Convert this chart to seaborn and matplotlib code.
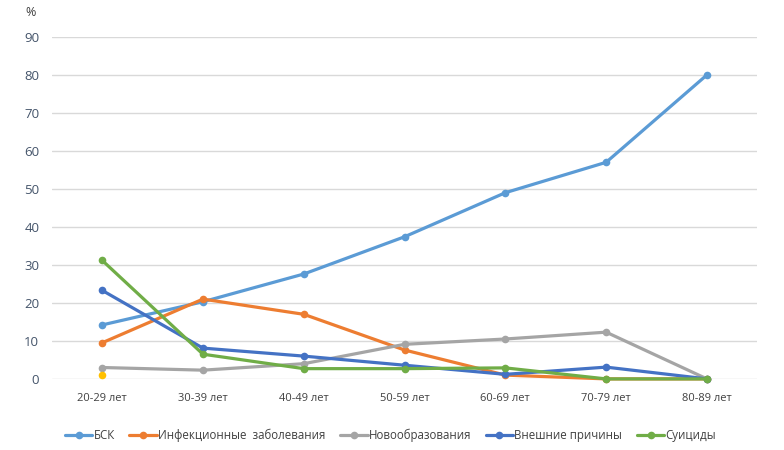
import pandas as pd
import matplotlib.pyplot as plt
import seaborn as sns

sns.set_theme(style="white")
plt.rcParams["font.family"] = ["Open Sans", "DejaVu Sans"]

## DATA
ages = ["20-29 лет", "30-39 лет", "40-49 лет", "50-59 лет", "60-69 лет", "70-79 лет", "80-89 лет"]
bsk = [14.2, 20.3, 27.6, 37.4, 49.0, 57.0, 80.0]
infections = [9.5, 21.0, 17.0, 7.6, 1.0, 0.0, 0.0]
neoplasms = [3.0, 2.3, 4.0, 9.1, 10.5, 12.3, 0.0]
external = [23.3, 8.1, 6.0, 3.6, 1.2, 3.1, 0.0]
suicides = [31.2, 6.5, 2.7, 2.7, 2.9, 0.0, 0.0]
stray = [1.1]  # lone yellow point at 20-29, not in legend

names = ["БСК", "Инфекционные  заболевания", "Новообразования", "Внешние причины", "Суициды"]
colors = ["#5B9BD5", "#ED7D31", "#A5A5A5", "#4472C4", "#70AD47"]

rows = []
for name, vals in zip(names, [bsk, infections, neoplasms, external, suicides]):
    for a, v in zip(ages, vals):
        rows.append({"age": a, "value": v, "cause": name})
df = pd.DataFrame(rows)

## PLOT
fig = plt.figure(figsize=(7.84, 4.5), dpi=100)
ax = fig.add_axes([0.066, 0.158, 0.9, 0.76])

sns.lineplot(data=df, x="age", y="value", hue="cause", hue_order=names,
             palette=colors, marker="o", markersize=5.5, markeredgewidth=0,
             linewidth=2.3, sort=False, ax=ax, clip_on=False, zorder=3)
ax.scatter([ages[0]], stray, color="#FFC000", s=30, zorder=4, clip_on=False, linewidths=0)

ax.set_xlim(-0.5, len(ages) - 0.5)
ax.set_ylim(0, 90)
ax.set_yticks(range(0, 91, 10))
ax.grid(axis="y", color="#D9D9D9", linewidth=1)
for s in ax.spines.values():
    s.set_visible(False)
ax.set_xlabel("")
ax.set_ylabel("")
ax.tick_params(axis="y", colors="#44546A", labelsize=9.5, length=0, pad=9)
ax.tick_params(axis="x", colors="#404040", labelsize=8, length=0, pad=10)
fig.text(0.033, 0.973, "%", fontsize=9, color="#404040", ha="left", va="center")

handles, labels = ax.get_legend_handles_labels()
ax.legend(handles, labels, loc="center", bbox_to_anchor=(0.48, -0.164), ncol=5,
          frameon=False, fontsize=8.3, labelcolor="#404040", handlelength=2.4,
          handletextpad=0.1, columnspacing=1.25)

fig.savefig("out.png", dpi=100)
